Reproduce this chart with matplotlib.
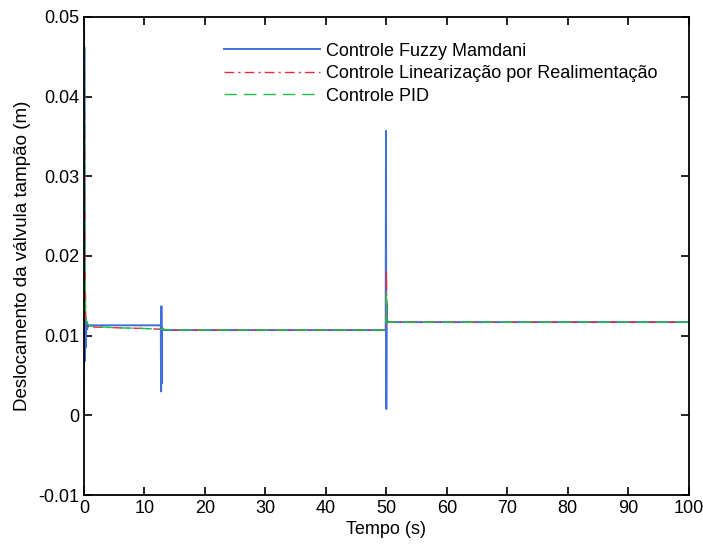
import numpy as np
import matplotlib.pyplot as plt
import matplotlib.font_manager as fm

names = {f.name for f in fm.fontManager.ttflist}
fam = 'Liberation Sans Narrow' if 'Liberation Sans Narrow' in names else 'Liberation Sans'
plt.rcParams['font.family'] = [fam, 'DejaVu Sans']

# Controle Fuzzy Mamdani
t_fuzzy = [0, 0.05, 0.12, 0.2, 0.3, 0.4, 0.5, 0.7, 1.0, 12.7, 12.75, 12.8, 12.85, 12.9, 13.2,
           20, 49.9, 49.95, 50.0, 50.05, 50.1, 50.3, 100]
y_fuzzy = [0, 0.0462, 0.0068, 0.0125, 0.0085, 0.0118, 0.0108, 0.0113, 0.0113, 0.0113, 0.0030,
           0.0137, 0.0040, 0.0110, 0.0107, 0.0107, 0.0107, 0.0357, 0.0008, 0.0140, 0.0117,
           0.0117, 0.0117]

# Controle Linearização por Realimentação
t_lin = [0, 0.05, 0.15, 0.3, 0.6, 1.0, 5, 10, 12.8, 15, 18, 20, 49.95, 50.0, 50.1, 50.3, 100]
y_lin = [0, 0.052, 0.020, 0.012, 0.0112, 0.0111, 0.0110, 0.0109, 0.0108, 0.0107, 0.0107,
         0.0107, 0.0107, 0.0182, 0.0125, 0.0117, 0.0117]

# Controle PID
t_pid = [0, 0.05, 0.15, 0.3, 0.6, 1.0, 5, 10, 12.8, 15, 20, 49.95, 50.0, 50.1, 50.3, 100]
y_pid = [0, 0.050, 0.018, 0.0120, 0.0115, 0.0112, 0.0110, 0.0109, 0.0108, 0.0107, 0.0107,
         0.0107, 0.0155, 0.0120, 0.0117, 0.0117]

fig = plt.figure(figsize=(7.03, 5.47), dpi=100)
ax = fig.add_axes([0.1195, 0.095, 0.860, 0.874])

ax.plot(t_fuzzy, y_fuzzy, color='#3f6fdc', lw=1.4, label='Controle Fuzzy Mamdani')
ax.plot(t_lin, y_lin, color='#e8293a', lw=1.0, ls=(0, (7, 3, 1.5, 3)),
        label='Controle Linearização por Realimentação')
ax.plot(t_pid, y_pid, color='#1fc24a', lw=1.0, ls=(0, (9, 5)), label='Controle PID')

ax.set_xlim(0, 100)
ax.set_ylim(-0.01, 0.05)
ax.set_xticks(np.arange(0, 101, 10))
ax.set_yticks([-0.01, 0, 0.01, 0.02, 0.03, 0.04, 0.05])
ax.set_yticklabels(['-0.01', '0', '0.01', '0.02', '0.03', '0.04', '0.05'])
ax.tick_params(direction='in', top=True, right=True, labelsize=13, length=6, width=1.2)
for s in ax.spines.values():
    s.set_linewidth(1.3)

ax.set_xlabel('Tempo (s)', fontsize=13, labelpad=3)
ax.set_ylabel('Deslocamento da válvula tampão (m)', fontsize=13.5, labelpad=5)

ax.legend(loc='upper left', bbox_to_anchor=(0.205, 0.98), frameon=False, fontsize=13,
          handlelength=5.3, handletextpad=0.35, labelspacing=0.3)

fig.savefig('out.png', dpi=100)
